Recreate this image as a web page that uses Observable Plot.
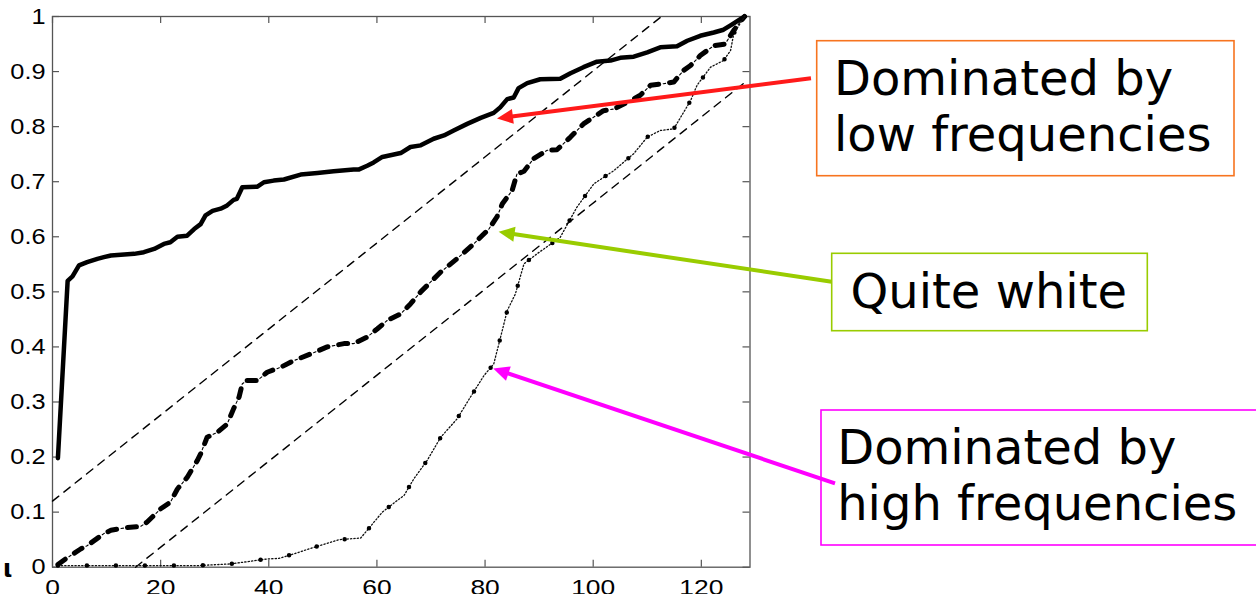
<!DOCTYPE html>
<html><head><meta charset="utf-8">
<script src="https://cdn.jsdelivr.net/npm/d3@7"></script>
<script src="https://cdn.jsdelivr.net/npm/@observablehq/plot@0.6"></script>
<style>
html,body{margin:0;padding:0;background:#fff;}
#chart{position:relative;width:1256px;height:594px;overflow:hidden;}
</style></head><body><div id="chart"></div>
<script>
// ---- data ----
const xTicks = [0, 20, 40, 60, 80, 100, 120];
const yTicks = [0, 0.1, 0.2, 0.3, 0.4, 0.5, 0.6, 0.7, 0.8, 0.9, 1];

// Dominated by low frequencies (solid)
const lowX = [1, 2.8, 3.7, 4.9, 6.4, 8.3, 9.5, 10.8, 15.1, 16.9, 18.8, 20.6, 21.8, 23.1, 24.9, 26.2, 27.4, 28.3, 29.6, 31.1, 32.3, 33.5, 34.1, 35.1, 37.9, 39.1, 40.9, 42.8, 45.9, 49.0, 52.0, 55.7, 56.6, 58.2, 59.4, 61.0, 64.4, 66.2, 68.1, 70.5, 72.4, 74.2, 76.7, 79.2, 81.6, 82.8, 84.1, 85.3, 86.2, 87.8, 90.2, 93.9, 95.8, 98.2, 100.7, 103.2, 105.0, 107.5, 110.0, 112.4, 115.5, 117.4, 119.8, 122.3, 124.1, 125.4, 128];
const lowY = [0.198, 0.52, 0.528, 0.548, 0.554, 0.56, 0.563, 0.566, 0.569, 0.572, 0.578, 0.587, 0.59, 0.6, 0.602, 0.614, 0.623, 0.639, 0.647, 0.651, 0.657, 0.667, 0.669, 0.69, 0.691, 0.699, 0.702, 0.704, 0.713, 0.716, 0.719, 0.722, 0.722, 0.729, 0.735, 0.745, 0.752, 0.763, 0.766, 0.778, 0.784, 0.793, 0.805, 0.816, 0.825, 0.835, 0.85, 0.853, 0.87, 0.879, 0.886, 0.887, 0.897, 0.908, 0.918, 0.92, 0.925, 0.927, 0.935, 0.944, 0.946, 0.956, 0.965, 0.971, 0.976, 0.984, 1.0];

// Quite white (dash-dot)
const whiteX = [1, 2.4, 5.2, 6.4, 9.5, 10.8, 13.8, 16.3, 17.5, 20, 21.8, 23.1, 24.9, 26.8, 27.4, 28.6, 30.5, 32.3, 33.5, 34.5, 35.1, 36.0, 37.9, 39.7, 42.2, 44.6, 47.7, 50.8, 53.9, 55.7, 58.2, 60.1, 61.9, 64.4, 66.2, 68.1, 71.8, 74.8, 77.9, 80.7, 82.2, 83.2, 85.0, 85.9, 87.2, 89.0, 91.5, 93.3, 95.8, 98.2, 101.9, 103.8, 106.3, 108.7, 110.6, 113.0, 114.9, 116.7, 118.0, 119.8, 122.3, 124.4, 126.0, 128];
const whiteY = [0.005, 0.015, 0.033, 0.039, 0.061, 0.067, 0.072, 0.074, 0.082, 0.106, 0.118, 0.142, 0.163, 0.194, 0.206, 0.236, 0.245, 0.26, 0.288, 0.309, 0.333, 0.339, 0.339, 0.354, 0.363, 0.375, 0.387, 0.4, 0.406, 0.406, 0.418, 0.433, 0.448, 0.46, 0.478, 0.5, 0.536, 0.56, 0.587, 0.614, 0.636, 0.66, 0.684, 0.714, 0.719, 0.742, 0.757, 0.758, 0.781, 0.805, 0.829, 0.832, 0.844, 0.857, 0.875, 0.878, 0.881, 0.902, 0.911, 0.929, 0.947, 0.95, 0.975, 1.0];

// Dominated by high frequencies (dotted)
const highX = [1, 5, 18, 27, 33, 39.7, 41.9, 44.6, 48.0, 53.0, 57.0, 58.2, 61.0, 64.0, 65.0, 66.8, 69.3, 71.8, 74.8, 77.3, 79.8, 81.6, 82.8, 84.1, 85.0, 85.6, 87.2, 89.6, 93.9, 97.0, 100.1, 103.8, 107.5, 110.0, 112.4, 114.9, 118.0, 119.2, 121.7, 124.1, 125.4, 126.0, 128];
const highY = [0.003, 0.003, 0.003, 0.003, 0.006, 0.015, 0.016, 0.024, 0.035, 0.05, 0.053, 0.067, 0.1, 0.123, 0.13, 0.16, 0.194, 0.236, 0.269, 0.309, 0.348, 0.369, 0.415, 0.466, 0.484, 0.496, 0.551, 0.569, 0.599, 0.654, 0.696, 0.72, 0.751, 0.781, 0.793, 0.796, 0.847, 0.875, 0.908, 0.92, 0.938, 0.969, 1.0];

// confidence bounds (dashed)
const upperX = [0, 112.64], upperY = [0.12, 1];
const lowerX = [15.36, 128], lowerY = [0, 0.88];

// annotations
const annoLines = [["Dominated by", "low frequencies"], ["Quite white"], ["Dominated by", "high frequencies"]];
const boxColors = ["#f7741f", "#99cc00", "#ff00ff"];
const arrowColors = ["#ff1a1a", "#99cc00", "#ff00ff"];
const tipX = [82.3, 82.6, 81.6];
const tipY = [0.814, 0.608, 0.36];

// ---- layout ----
const W = 1256, H = 594, mL = 52, mR = 506.5, mT = 16, mB = 27.3;
const plotW = W - mL - mR, plotH = H - mT - mB, tickLen = 7;
const boxes = [[816.7, 40.7, 417.3, 135], [831.7, 253.3, 315.6, 77.4], [821, 410, 450, 135]];
const textPos = [[834, 95], [850.5, 308.3], [837.2, 464]];
const tails = [[811, 78.3], [831.7, 281.7], [835, 483.3]];

const series = (xs, ys) => xs.map((x, i) => ({x, y: ys[i]}));
const fmt = d => String(d);
const tickFont = "'Liberation Sans', Arial, sans-serif";

const chart = Plot.plot({
  width: W, height: H,
  marginLeft: mL, marginRight: mR, marginTop: mT, marginBottom: mB,
  style: {fontFamily: tickFont, fontSize: "22px", background: "white", color: "black"},
  x: {domain: [0, 129]},
  y: {domain: [0, 1]},
  marks: [
    Plot.axisX(xTicks, {tickSize: 0, tickPadding: 12, label: null, tickFormat: fmt, fontSize: 22, fontFamily: tickFont}),
    Plot.axisY(yTicks, {tickSize: 0, tickPadding: 7, label: null, tickFormat: fmt, fontSize: 22, fontFamily: tickFont}),
    Plot.tickX(xTicks, {x: d => d, insetTop: plotH - tickLen, stroke: "#555", strokeWidth: 1.2}),
    Plot.tickX(xTicks, {x: d => d, insetBottom: plotH - tickLen, stroke: "#555", strokeWidth: 1.2}),
    Plot.tickY(yTicks, {y: d => d, insetRight: plotW - tickLen, stroke: "#555", strokeWidth: 1.2}),
    Plot.tickY(yTicks, {y: d => d, insetLeft: plotW - tickLen, stroke: "#555", strokeWidth: 1.2}),
    Plot.frame({stroke: "#555", strokeWidth: 1.3}),
    Plot.line(series(upperX, upperY), {x: "x", y: "y", stroke: "black", strokeWidth: 1.4, strokeDasharray: "8,6.5"}),
    Plot.line(series(lowerX, lowerY), {x: "x", y: "y", stroke: "black", strokeWidth: 1.4, strokeDasharray: "8,6.5"}),
    Plot.line(series(lowX, lowY), {x: "x", y: "y", stroke: "black", strokeWidth: 4.5, strokeLinejoin: "round"}),
    Plot.line(series(whiteX, whiteY), {x: "x", y: "y", stroke: "black", strokeWidth: 5, strokeDasharray: "9,11"}),
    Plot.line(series(whiteX, whiteY), {x: "x", y: "y", stroke: "black", strokeWidth: 1.1, strokeDasharray: "2.5,17.5", strokeDashoffset: 6.5}),
    Plot.line(series(highX, highY), {x: "x", y: "y", stroke: "#111", strokeWidth: 1.3, strokeDasharray: "1.3,2.1"}),
    Plot.line(series(highX, highY), {x: "x", y: "y", stroke: "black", strokeWidth: 4.5, strokeLinecap: "round", strokeDasharray: "0,29"})
  ]
});
document.getElementById("chart").appendChild(chart);

// stretch tick labels horizontally as in the reference
const stretch = {"x-axis tick label": 1.2, "y-axis tick label": 1.15};
d3.select(chart).selectAll('g[aria-label$="tick label"]').each(function () {
  const s = stretch[this.getAttribute("aria-label")] || 1.15;
  d3.select(this).selectAll("text").each(function () {
    const t = this.getAttribute("transform") || "";
    this.setAttribute("transform", t + ` scale(${s},1)`);
  });
});

// annotations
const xs = chart.scale("x"), ys = chart.scale("y");
const svg = d3.select(chart);
const g = svg.append("g").attr("font-family", "'DejaVu Sans', sans-serif").attr("font-size", 48).attr("text-anchor", "start");
annoLines.forEach((lines, i) => {
  const [bx, by, bw, bh] = boxes[i];
  g.append("rect").attr("x", bx).attr("y", by).attr("width", bw).attr("height", bh)
    .attr("fill", "white").attr("stroke", boxColors[i]).attr("stroke-width", 1.6);
  lines.forEach((s, j) => {
    g.append("text").attr("x", textPos[i][0]).attr("y", textPos[i][1] + j * 56)
      .attr("text-anchor", "start").attr("font-size", 48).attr("fill", "black").text(s);
  });
});
annoLines.forEach((lines, i) => {
  const x2 = xs.apply(tipX[i]), y2 = ys.apply(tipY[i]);
  const [x1, y1] = tails[i];
  const dx = x2 - x1, dy = y2 - y1, L = Math.hypot(dx, dy), ux = dx / L, uy = dy / L;
  const hl = 16, hw = 7.5;
  const bx = x2 - ux * hl, by = y2 - uy * hl;
  g.append("line").attr("x1", x1).attr("y1", y1).attr("x2", bx + ux * 1).attr("y2", by + uy * 1)
    .attr("stroke", arrowColors[i]).attr("stroke-width", 4);
  g.append("path").attr("d", `M${x2},${y2}L${bx - uy * hw},${by + ux * hw}L${bx + uy * hw},${by - ux * hw}Z`)
    .attr("fill", arrowColors[i]);
});
g.append("text").attr("x", 3).attr("y", 577).attr("text-anchor", "start").attr("font-family", "'DejaVu Sans', sans-serif")
  .attr("font-size", 24).attr("font-weight", "bold").attr("fill", "black").text("ι");
</script></body></html>
